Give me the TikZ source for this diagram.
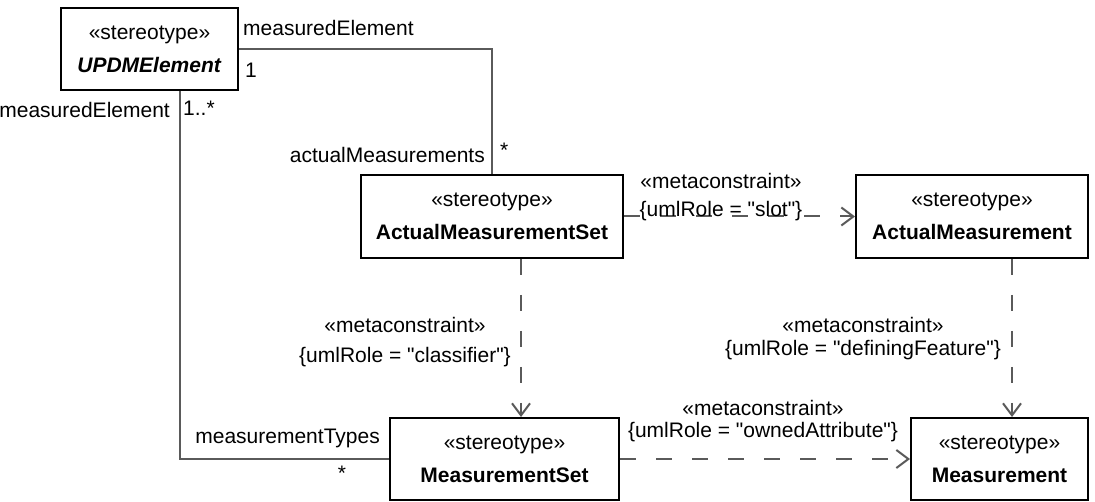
\documentclass[tikz,border=0pt]{standalone}
\usepackage{fontspec}
\setmainfont{Liberation Sans}[Ligatures=TeXOff]
\usetikzlibrary{arrows.meta}
\definecolor{linegray}{HTML}{5A5A5A}
\begin{document}
\begin{tikzpicture}[x=1pt,y=-1pt,
  every node/.style={font=\fontsize{21}{25}\selectfont, inner sep=0pt, text=black},
  cls/.style={draw=black, line width=2pt, rectangle, align=center, inner sep=0pt, fill=white},
  assoc/.style={draw=linegray, line width=2pt},
  dep/.style={draw=linegray, line width=2pt, dash pattern=on 16pt off 20pt, -{Straight Barb[length=12pt,width=18pt]}},
  lbl/.style={align=center},
]
\useasboundingbox (0,0) rectangle (1095,502);

\node[cls, minimum width=177pt, minimum height=82pt] (upd) at (149.5,49) {«stereotype»\\[8pt]\textbf{\textit{UPDMElement}}};
\node[cls, minimum width=262pt, minimum height=83pt] (ams) at (492,216.5) {«stereotype»\\[8pt]\textbf{ActualMeasurementSet}};
\node[cls, minimum width=232pt, minimum height=83pt] (am) at (972,216.5) {«stereotype»\\[8pt]\textbf{ActualMeasurement}};
\node[cls, minimum width=229pt, minimum height=82pt] (ms) at (504.5,459) {«stereotype»\\[8pt]\textbf{MeasurementSet}};
\node[cls, minimum width=177pt, minimum height=82pt] (m) at (999.5,459) {«stereotype»\\[8pt]\textbf{Measurement}};

\draw[assoc] (upd.east) -| (ams.north);
\draw[assoc] ([xshift=30.5pt]upd.south) |- (ms.west);

\draw[dep] (ams.east) -- (am.west);
\draw[dep] ([xshift=29pt]ams.south) -- ([xshift=16.5pt]ms.north);
\draw[dep] ([xshift=40pt]am.south) -- ([xshift=12.5pt]m.north);
\draw[dep] (ms.east) -- (m.west);

\node[anchor=west] (l1) at (243,28) {measuredElement};
\node[anchor=west] (l2) at (245,70) {1};
\node[anchor=east] (l3) at (170,110) {measuredElement};
\node[anchor=west] (l4) at (183,108) {1..*};
\node[anchor=east] (l5) at (485,155) {actualMeasurements};
\node[anchor=west] (l6) at (500,150) {*};
\node[anchor=east] (l7) at (380,438) {measurementTypes};
\node (l8) at (342,473) {*};

\node[lbl] (c1) at (721,197) {«metaconstraint»\\[3pt]\{umlRole = "slot"\}};
\node[lbl] (c2) at (405,342) {«metaconstraint»\\[5pt]\{umlRole = "classifier"\}};
\node[lbl] (c3) at (863,338.5) {«metaconstraint»\\[-2pt]\{umlRole = "definingFeature"\}};
\node[lbl] (c4) at (763,421) {«metaconstraint»\\[-3pt]\{umlRole = "ownedAttribute"\}};
\end{tikzpicture}
\end{document}
